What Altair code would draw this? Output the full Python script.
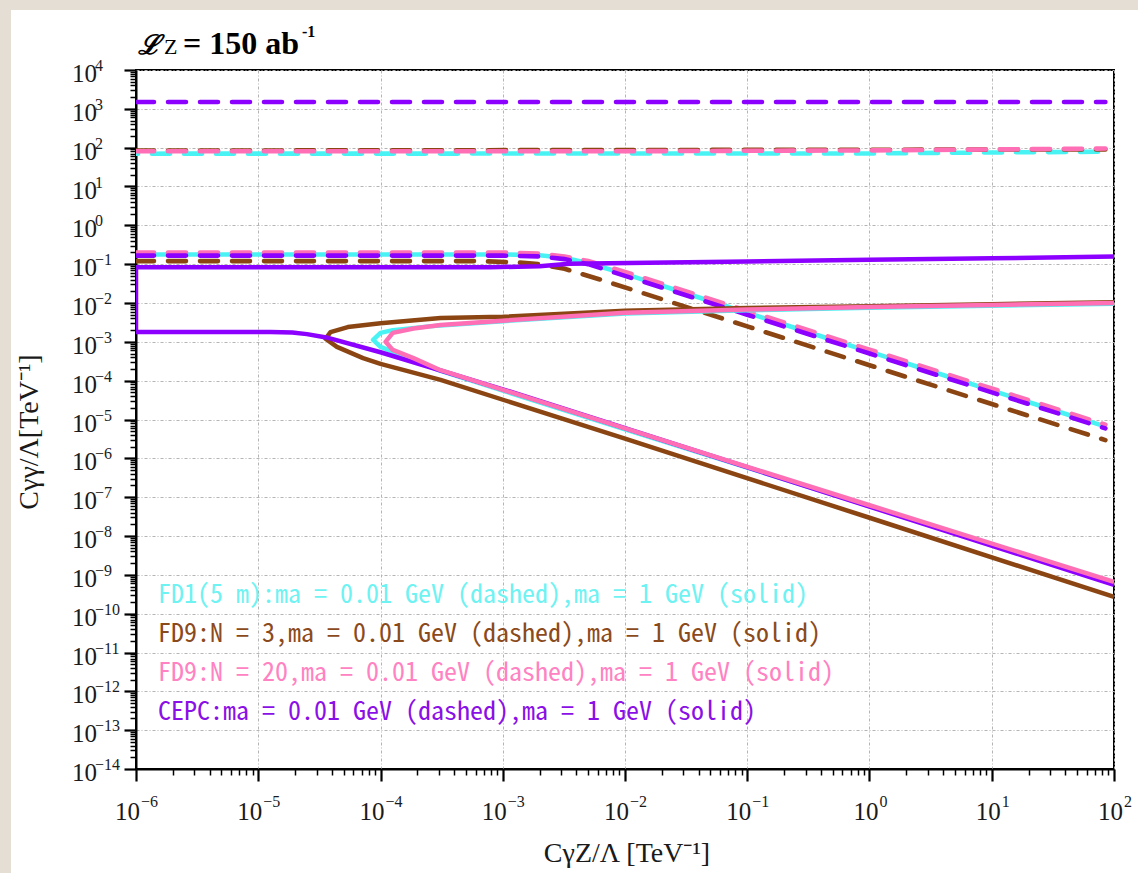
import altair as alt
import pandas as pd

# ---------------------------------------------------------------
# Sensitivity contours in the (CγZ/Λ, Cγγ/Λ) plane, both in TeV^-1
# dashed: ma = 0.01 GeV, solid: ma = 1 GeV
# ---------------------------------------------------------------
series = ["FD1", "FD9N3", "FD9N20", "CEPC"]
line_colors = ["#4af3f3", "#8b4513", "#ff6fb5", "#8c00ff"]
text_colors = ["#6ef2f2", "#8b4a1c", "#ff82c2", "#8a10e6"]

legend_lines = [
    "FD1(5 m):ma = 0.01 GeV (dashed),ma = 1 GeV (solid)",
    "FD9:N = 3,ma = 0.01 GeV (dashed),ma = 1 GeV (solid)",
    "FD9:N = 20,ma = 0.01 GeV (dashed),ma = 1 GeV (solid)",
    "CEPC:ma = 0.01 GeV (dashed),ma = 1 GeV (solid)",
]

# ma = 0.01 GeV : upper edges
fd1_up_x = [1e-6, 1.0, 85]
fd1_up_y = [70, 71, 79]
fd9n3_up_x = [1e-6, 85]
fd9n3_up_y = [84, 90]
fd9n20_up_x = [1e-6, 1e-2, 1.0, 85]
fd9n20_up_y = [81, 81, 85, 95]
cepc_up_x = [1e-6, 85]
cepc_up_y = [1.5e3, 1.5e3]

# ma = 0.01 GeV : lower edges
fd1_lo_x = [1e-6, 1e-3, 2e-3, 3.2e-3, 5e-3, 1e-2, 0.1, 1, 10, 85]
fd1_lo_y = [0.178, 0.178, 0.17, 0.145, 0.107, 0.056, 5.6e-3, 5.6e-4, 5.6e-5, 6.6e-6]
fd9n3_lo_x = [1e-6, 6.3e-4, 1.26e-3, 2e-3, 3.2e-3, 6.3e-3, 0.1, 1, 10, 85]
fd9n3_lo_y = [0.12, 0.12, 0.112, 0.1, 0.076, 0.04, 2.5e-3, 2.5e-4, 2.5e-5, 2.95e-6]
fd9n20_lo_x = [1e-6, 1e-3, 2e-3, 3.2e-3, 5e-3, 1e-2, 0.1, 1, 10, 85]
fd9n20_lo_y = [0.2, 0.2, 0.186, 0.158, 0.12, 0.063, 6.3e-3, 6.3e-4, 6.3e-5, 7.4e-6]
cepc_lo_x = [1e-6, 1e-3, 2e-3, 3.2e-3, 5e-3, 1e-2, 0.1, 1, 10, 85]
cepc_lo_y = [0.166, 0.166, 0.158, 0.135, 0.1, 0.05, 5e-3, 5e-4, 5e-5, 5.9e-6]

# ma = 1 GeV : contours traced upper branch -> lower branch
fd1_sol_x = [100, 1, 0.1, 1e-2, 1e-3, 2.5e-4, 1.26e-4, 1e-4, 8.7e-5,
             1e-4, 1.26e-4, 1.86e-4, 3.1e-4, 1e-2, 1, 100]
fd1_sol_y = [9.5e-3, 7.6e-3, 6.5e-3, 5.4e-3, 3.4e-3, 2.5e-3, 2e-3, 1.7e-3, 1.12e-3,
             7.4e-4, 5.6e-4, 3.6e-4, 1.78e-4, 5.6e-6, 5.9e-8, 6.3e-10]
fd9n3_sol_x = [100, 10, 1, 0.1, 1e-2, 1e-3, 3.1e-4, 1e-4, 5.4e-5, 3.9e-5, 3.55e-5,
               4.4e-5, 7.2e-5, 1e-4, 3.1e-4, 1e-2, 1, 100]
fd9n3_sol_y = [1.05e-2, 9.3e-3, 8.3e-3, 7.4e-3, 6.3e-3, 4.4e-3, 4.1e-3, 3e-3, 2.4e-3, 1.78e-3, 1.2e-3,
               7.4e-4, 3.8e-4, 2.7e-4, 1.05e-4, 3.2e-6, 2.95e-8, 2.7e-10]
fd9n20_sol_x = [100, 10, 1, 0.1, 1e-2, 1e-3, 3.1e-4, 1.86e-4, 1.26e-4, 1.1e-4,
                1.26e-4, 1.86e-4, 3.1e-4, 1e-2, 1, 100]
fd9n20_sol_y = [1e-2, 8.9e-3, 7.9e-3, 6.8e-3, 5.6e-3, 3.5e-3, 2.7e-3, 2.2e-3, 1.7e-3, 1e-3,
                6.2e-4, 3.8e-4, 1.86e-4, 5.9e-6, 6.2e-8, 6.6e-10]
cepc_sol_x = [100, 10, 1, 0.1, 3.5e-3, 2e-3, 7.9e-4, 1e-6, 1e-6,
              1.26e-5, 1.9e-5, 2.5e-5, 3.6e-5, 1e-4, 1e-3, 1e-2, 1, 100]
cepc_sol_y = [0.158, 0.141, 0.129, 0.117, 0.102, 0.089, 0.083, 0.083, 1.8e-3,
              1.8e-3, 1.75e-3, 1.58e-3, 1.3e-3, 5.4e-4, 6e-5, 6e-6, 5.75e-8, 5.5e-10]

dashed = {
    "FD1": [(fd1_up_x, fd1_up_y), (fd1_lo_x, fd1_lo_y)],
    "FD9N3": [(fd9n3_up_x, fd9n3_up_y), (fd9n3_lo_x, fd9n3_lo_y)],
    "FD9N20": [(fd9n20_up_x, fd9n20_up_y), (fd9n20_lo_x, fd9n20_lo_y)],
    "CEPC": [(cepc_up_x, cepc_up_y), (cepc_lo_x, cepc_lo_y)],
}
solid = {
    "FD1": (fd1_sol_x, fd1_sol_y),
    "FD9N3": (fd9n3_sol_x, fd9n3_sol_y),
    "FD9N20": (fd9n20_sol_x, fd9n20_sol_y),
    "CEPC": (cepc_sol_x, cepc_sol_y),
}

# axis decades
x_exps = [-6, -5, -4, -3, -2, -1, 0, 1, 2]
y_exps = list(range(4, -15, -1))

W, H = 978, 699

xs = alt.Scale(type="log", domain=[1e-6, 100], nice=False)
ys = alt.Scale(type="log", domain=[1e-14, 1e4], nice=False)

major = "abs(log(datum.value)/LN10 - round(log(datum.value)/LN10)) < 0.01"


def log_ticks(exps):
    vals = []
    for e in sorted(exps)[:-1]:
        for m in range(1, 10):
            vals.append(m * 10.0 ** e)
    vals.append(10.0 ** max(exps))
    return vals


def axis_for(vals):
    return alt.Axis(
        values=vals, labels=False, title=None,
        domainColor="black", domainWidth=2,
        tickColor="black",
        tickSize={"condition": {"test": major, "value": 12}, "value": 6},
        tickWidth={"condition": {"test": major, "value": 2.2}, "value": 1.5},
        grid=True, gridColor="#b4b4b4", gridDash=[3, 2, 1, 2], gridWidth=1,
        gridOpacity={"condition": {"test": major, "value": 1}, "value": 0},
    )


X = alt.X("x:Q", scale=xs, axis=axis_for(log_ticks(x_exps)))
Y = alt.Y("y:Q", scale=ys, axis=axis_for(log_ticks(y_exps)))


def dashed_layer(name, offset=0):
    rows = []
    for seg, (xv, yv) in enumerate(dashed[name]):
        for i, (a, b) in enumerate(zip(xv, yv)):
            rows.append({"x": a, "y": b, "seg": seg, "i": i})
    c = line_colors[series.index(name)]
    return alt.Chart(pd.DataFrame(rows)).mark_line(
        color=c, strokeWidth=4.6, strokeDash=[18, 14], strokeDashOffset=offset,
        strokeCap="round", clip=True,
    ).encode(x=X, y=Y, detail="seg:N", order="i:Q")


def solid_layer(name):
    xv, yv = solid[name]
    df = pd.DataFrame({"x": xv, "y": yv, "i": range(len(xv))})
    c = line_colors[series.index(name)]
    return alt.Chart(df).mark_line(
        color=c, strokeWidth=4.5, strokeJoin="round", clip=True,
    ).encode(x=X, y=Y, order="i:Q")


def one(text):
    return pd.DataFrame({"t": [text]})


# page frame
strip_left = alt.Chart(one("")).mark_rect(color="#e4ded4").encode(
    x=alt.value(-136), x2=alt.value(-125), y=alt.value(-70), y2=alt.value(H + 104))
strip_top = alt.Chart(one("")).mark_rect(color="#e4ded4").encode(
    x=alt.value(-136), x2=alt.value(W + 24), y=alt.value(-70), y2=alt.value(-60))

# tick labels: "10" plus a raised exponent
serif = "Liberation Serif"
xl = pd.DataFrame({"x": [10.0 ** e for e in x_exps],
                   "e": [str(e).replace("-", "\u2212") for e in x_exps],
                   "neg": [e < 0 for e in x_exps]})
xl_neg = xl[xl["neg"]]
xl_pos = xl[~xl["neg"]]
x_labels = []
for d, off in [(xl_neg, 4), (xl_pos, 9)]:
    x_labels.append(alt.Chart(d).mark_text(
        text="10", align="right", baseline="alphabetic", dx=off, font=serif,
        fontSize=25, color="#1a1a1a").encode(x=X, y=alt.value(H + 51)))
    x_labels.append(alt.Chart(d).mark_text(
        align="left", baseline="alphabetic", dx=off + 1, font=serif,
        fontSize=16, color="#1a1a1a").encode(x=X, y=alt.value(H + 38), text="e:N"))

yl = pd.DataFrame({"y": [10.0 ** e for e in y_exps],
                   "e": [str(e).replace("-", "\u2212") for e in y_exps]})
y_labels = [
    alt.Chart(yl).mark_text(text="10", align="left", baseline="alphabetic", dy=12,
                            font=serif, fontSize=25, color="#1a1a1a").encode(
        x=alt.value(-64), y=Y),
    alt.Chart(yl).mark_text(align="left", baseline="alphabetic", dy=1,
                            font=serif, fontSize=16, color="#1a1a1a").encode(
        x=alt.value(-41), y=Y, text="e:N"),
]

# axis titles
x_title = alt.Chart(one("C\u03b3Z/\u039b [TeV\u207b\u00b9]")).mark_text(
    font=serif, fontSize=28, align="center", baseline="alphabetic", color="#1a1a1a"
).encode(x=alt.value(491), y=alt.value(H + 93), text="t:N")
y_title = alt.Chart(one("C\u03b3\u03b3/\u039b[TeV\u207b\u00b9]")).mark_text(
    font=serif, fontSize=28, align="center", baseline="middle", angle=270, color="#1a1a1a"
).encode(x=alt.value(-106), y=alt.value(362), text="t:N")

# luminosity tag above the frame
lum = [
    alt.Chart(one("\u2112")).mark_text(font="DejaVu Serif", fontSize=27, fontStyle="italic",
                                        fontWeight="bold", align="left", baseline="alphabetic",
                                        color="black").encode(x=alt.value(2), y=alt.value(-16), text="t:N"),
    alt.Chart(one("Z")).mark_text(font=serif, fontSize=22, align="left", baseline="alphabetic",
                                  color="black").encode(x=alt.value(28), y=alt.value(-16), text="t:N"),
    alt.Chart(one("= 150 ab")).mark_text(font=serif, fontSize=32, fontWeight="bold", align="left",
                                         baseline="alphabetic", color="black").encode(
        x=alt.value(47), y=alt.value(-16), text="t:N"),
    alt.Chart(one("-1")).mark_text(font=serif, fontSize=16, fontWeight="bold", align="left",
                                   baseline="alphabetic", color="black").encode(
        x=alt.value(166), y=alt.value(-33), text="t:N"),
]

# in-plot legend text
leg = pd.DataFrame({"t": legend_lines, "s": series, "k": [0, 1, 2, 3]})
legend_text = [
    alt.Chart(leg[leg["k"] == k]).mark_text(
        font="Noto Sans Mono CJK SC, Liberation Mono", fontSize=26, align="left",
        baseline="alphabetic", color=text_colors[k]).encode(
        x=alt.value(22), y=alt.value(533 + 39 * k), text="t:N")
    for k in range(4)
]

layers = (
    [strip_left, strip_top]
    + [dashed_layer("FD1", offset=16), dashed_layer("FD9N3"), dashed_layer("FD9N20"), dashed_layer("CEPC")]
    + [solid_layer("FD1"), solid_layer("FD9N3"), solid_layer("CEPC"), solid_layer("FD9N20")]
    + legend_text + x_labels + y_labels + [x_title, y_title] + lum
)

chart = alt.layer(*layers).properties(
    width=W, height=H,
    autosize=alt.AutoSizeParams(type="none"),
    padding={"left": 136, "top": 70, "right": 24, "bottom": 104},
    background="white",
).configure_view(stroke="black", strokeWidth=2)

chart.save("out.html", embed_options={"renderer": "svg", "actions": False})
